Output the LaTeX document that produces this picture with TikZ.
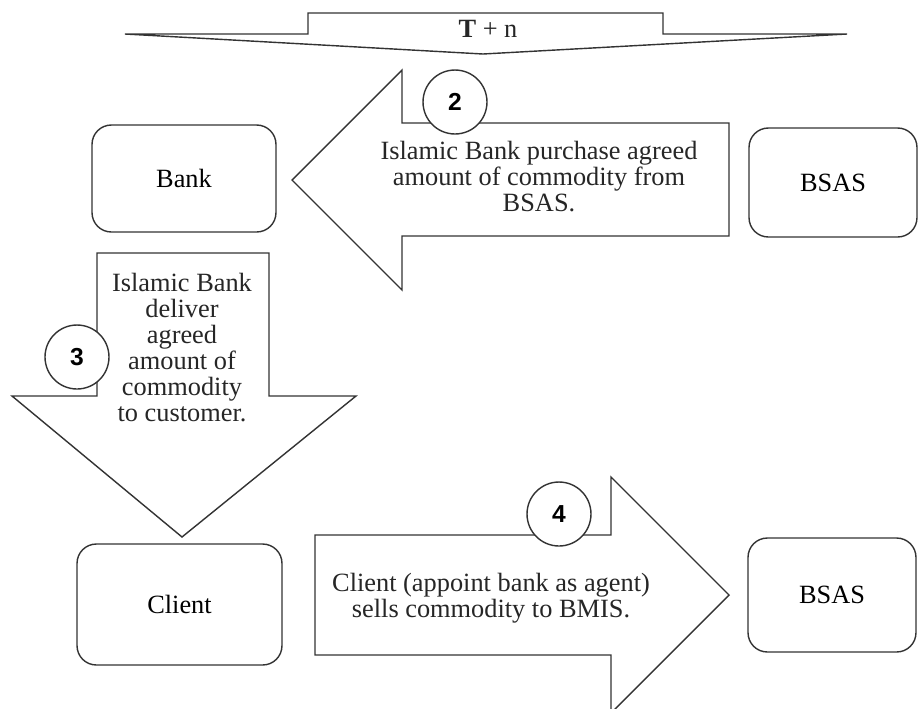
\documentclass[tikz,border=0pt]{standalone}
\usepackage{fontspec}
\setmainfont{Liberation Serif}
\newfontfamily\numfont{Liberation Sans}
\tikzset{
  party/.style={draw=black!80, line width=0.8pt, rounded corners=11pt, font=\fontsize{15}{14.8}\selectfont},
  blockarrow/.style={draw=black!80, line width=0.8pt, fill=white, line join=miter},
  caption/.style={align=center, inner sep=0pt, text=black!85, font=\fontsize{15}{14.8}\selectfont},
  numcircle/.style={circle, draw=black!80, line width=0.8pt, fill=white, minimum size=1.28cm, inner sep=0pt, font=\numfont\bfseries\fontsize{14}{14}\selectfont}
}
\begin{document}
\begin{tikzpicture}[x=0.02cm, y=-0.02cm]
        \useasboundingbox (0,0) rectangle (920,708);
        \clip (0,0) rectangle (920,708);
        % time banner
        \draw[blockarrow] (125,34) -- (308,34) -- (308,13) -- (663,13) -- (663,34) -- (847,34) -- (483,54) -- cycle;
        \node[caption] (time) at (488,29) {\textbf{T} + n};
        % parties
        \node[party, minimum width=3.68cm, minimum height=2.14cm] (bank) at (184,178.5) {Bank};
        \node[party, minimum width=3.36cm, minimum height=2.18cm] (bsasA) at (833,182.5) {BSAS};
        \node[party, minimum width=4.1cm, minimum height=2.42cm] (client) at (179.5,604.5) {Client};
        \node[party, minimum width=3.36cm, minimum height=2.28cm] (bsasB) at (832,595) {BSAS};
        % step 2: bsas to bank
        \draw[blockarrow] (292,180) -- (402,70) -- (402,123) -- (729,123) -- (729,236) -- (402,236) -- (402,290) -- cycle;
        \node[caption] (buy) at (539,177) {Islamic Bank purchase agreed\\amount of commodity from\\BSAS.};
        \node[numcircle] (n2) at (455,102) {2};
        % step 3: bank to client
        \draw[blockarrow] (97,253) -- (269,253) -- (269,396) -- (356,396) -- (182,537) -- (12,396) -- (97,396) -- cycle;
        \node[caption] (deliver) at (182,348) {Islamic Bank\\deliver\\agreed\\amount of\\commodity\\to customer.};
        \node[numcircle] (n3) at (77,357) {3};
        % step 4: client to bsas
        \draw[blockarrow] (315,535) -- (611,535) -- (611,477) -- (729,595) -- (611,713) -- (611,655) -- (315,655) -- cycle;
        \node[caption] (sell) at (491,598) {Client (appoint bank as agent)\\sells commodity to BMIS.};
        \node[numcircle] (n4) at (559,514) {4};
    \end{tikzpicture}
\end{document}
